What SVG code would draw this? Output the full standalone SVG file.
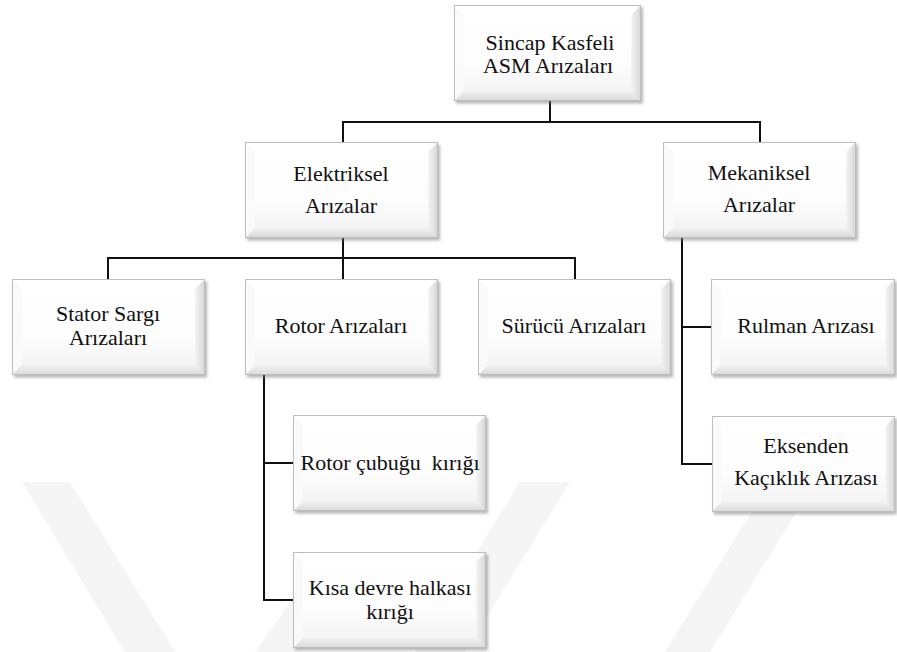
<svg xmlns="http://www.w3.org/2000/svg" xmlns:xlink="http://www.w3.org/1999/xlink" width="897" height="652" viewBox="0 0 897 652">
  <style>
    .wire { fill: none; stroke: #111; stroke-width: 2; }
    .mark { fill: #f5f5f5; }
    .pre { white-space: pre; }
  </style>
  <defs>
    <filter id="soft" x="-10%" y="-10%" width="130%" height="130%">
      <feGaussianBlur stdDeviation="1.6"/>
    </filter>
    <linearGradient id="face" x1="0" y1="0" x2="0" y2="1">
      <stop offset="0" stop-color="#ffffff"/>
      <stop offset="0.6" stop-color="#fdfdfd"/>
      <stop offset="1" stop-color="#f1f1f1"/>
    </linearGradient>
    <linearGradient id="rightBevel" x1="0" y1="0" x2="1" y2="0">
      <stop offset="0" stop-color="#f4f4f4"/>
      <stop offset="1" stop-color="#d6d6d6"/>
    </linearGradient>
    <linearGradient id="bottomBevel" x1="0" y1="0" x2="0" y2="1">
      <stop offset="0" stop-color="#f2f2f2"/>
      <stop offset="1" stop-color="#d9d9d9"/>
    </linearGradient>
    <!-- bevelled white card, drawn at 193 x 96 and stretched per node -->
    <symbol id="card" viewBox="0 0 193 96" preserveAspectRatio="none" overflow="visible">
      <rect x="2" y="2.5" width="193" height="96" fill="#7a7a7a" opacity="0.55" filter="url(#soft)"/>
      <rect x="0" y="0" width="193" height="96" fill="url(#face)"/>
      <polygon points="0,0 10,10 10,86 0,96" fill="#fafafa"/>
      <polygon points="0,0 193,0 183,10 10,10" fill="#ffffff"/>
      <polygon points="193,0 193,96 183,86 183,10" fill="url(#rightBevel)"/>
      <polygon points="0,96 193,96 183,86 10,86" fill="url(#bottomBevel)"/>
      <rect x="0.5" y="0.5" width="192" height="95" fill="none" stroke="#bdbdbd" stroke-width="1"/>
    </symbol>
  </defs>

  <rect width="897" height="652" fill="#ffffff"/>

  <!-- faint background emblem -->
  <g id="emblem">
    <polygon class="mark" points="22,482 70,482 175,652 125,652"/>
    <polygon class="mark" points="255,652 300,652 345,585 320,560"/>
    <polygon class="mark" points="520,482 570,482 465,652 415,652"/>
    <polygon class="mark" points="770,482 815,482 710,652 665,652"/>
  </g>

  <!-- connectors -->
  <g id="connectors">
    <path class="wire" d="M550 101 V122 M343 142 V122 H760 V142"/>
    <path class="wire" d="M343 238 V279 M108 279 V258 H575 V279"/>
    <path class="wire" d="M682 238 V464 H712 M682 327 H711"/>
    <path class="wire" d="M264 375 V600 H293 M264 463 H293"/>
  </g>

  <!-- nodes -->
  <g font-family="'Liberation Serif', 'DejaVu Serif', 'Times New Roman', serif" font-size="22" fill="#111" text-anchor="middle">
  <g id="root">
    <use xlink:href="#card" x="454" y="5" width="187" height="96"/>
    <text x="550" y="50">Sincap Kasfeli</text>
    <text x="548" y="73">ASM Arızaları</text>
  </g>
  <g id="elektriksel">
    <use xlink:href="#card" x="245" y="142" width="193" height="96"/>
    <text x="341" y="181">Elektriksel</text>
    <text x="341" y="213">Arızalar</text>
  </g>
  <g id="mekaniksel">
    <use xlink:href="#card" x="663" y="142" width="193" height="96"/>
    <text x="759" y="180">Mekaniksel</text>
    <text x="759" y="212">Arızalar</text>
  </g>
  <g id="stator">
    <use xlink:href="#card" x="12" y="279" width="193" height="96"/>
    <text x="108" y="321">Stator Sargı</text>
    <text x="108" y="345">Arızaları</text>
  </g>
  <g id="rotor">
    <use xlink:href="#card" x="245" y="279" width="193" height="96"/>
    <text x="341" y="333">Rotor Arızaları</text>
  </g>
  <g id="surucu">
    <use xlink:href="#card" x="478" y="279" width="193" height="96"/>
    <text x="574" y="333">Sürücü Arızaları</text>
  </g>
  <g id="rulman">
    <use xlink:href="#card" x="711" y="279" width="184" height="96"/>
    <text x="806" y="333">Rulman Arızası</text>
  </g>
  <g id="eksenden">
    <use xlink:href="#card" x="712" y="416" width="183" height="96"/>
    <text x="806" y="453">Eksenden</text>
    <text x="806" y="485">Kaçıklık Arızası</text>
  </g>
  <g id="rotor-cubugu">
    <use xlink:href="#card" x="293" y="415" width="193" height="96"/>
    <text class="pre" xml:space="preserve" x="390" y="470">Rotor çubuğu  kırığı</text>
  </g>
  <g id="kisa-devre">
    <use xlink:href="#card" x="293" y="552" width="193" height="96"/>
    <text x="390" y="595">Kısa devre halkası</text>
    <text x="390" y="619">kırığı</text>
  </g>
  </g>
</svg>
